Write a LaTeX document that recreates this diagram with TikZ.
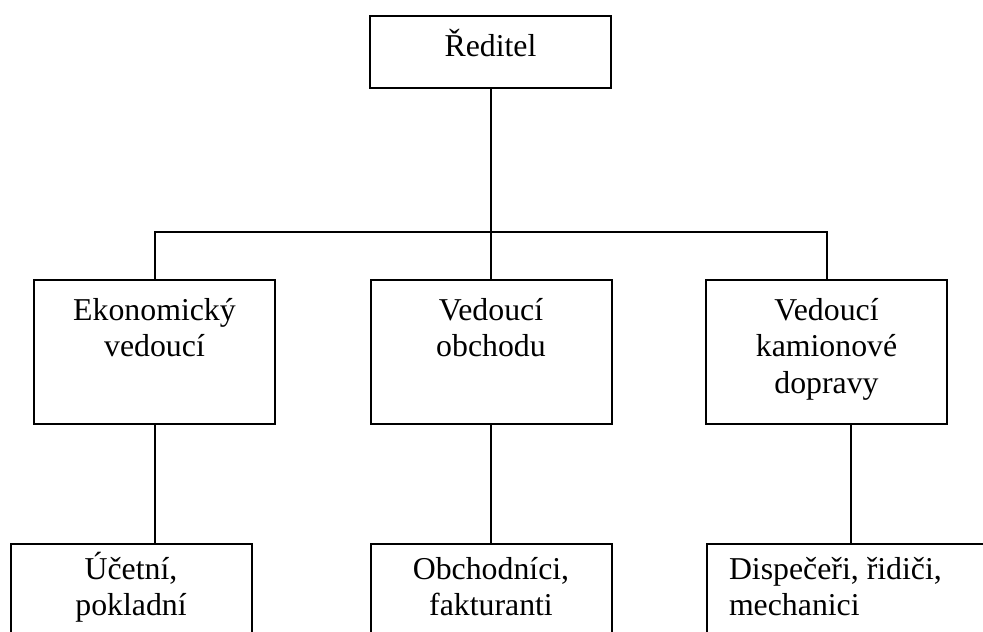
\documentclass[tikz,border=0pt]{standalone}
\usepackage{fontspec}
\setmainfont{Liberation Serif}
\usetikzlibrary{positioning}

\begin{document}
\begin{tikzpicture}[x=1pt, y=-1pt, line width=2pt,
  font=\fontsize{31.8pt}{36.5pt}\selectfont,
  box/.style={draw, line width=2pt, minimum width=241pt, minimum height=144pt, anchor=north, inner sep=0pt},
  txt/.style={align=center, inner sep=0pt}]
  \clip (0,0) rectangle (983,632);
  % Boxes
  \node[box, minimum height=72pt] (red) at (490.5,15) {};
  \node[box] (ekon) at (154.5,279) {};
  \node[box] (obch) at (491,279) {};
  \node[box] (kam) at (826.5,279) {};
  \node[box, minimum height=120pt] (uc) at (131,543) {};
  \node[box, minimum height=120pt] (obz) at (491,543) {};
  \node[box, minimum height=120pt, minimum width=300pt, anchor=north west] (disp) at (706,543) {};

  % Texts (base = last line)
  \node[txt, below=41pt of red.north, anchor=base] (redT) {Ředitel};
  \node[txt, below=77.5pt of ekon.north, anchor=base] (ekonT) {Ekonomický\\vedoucí};
  \node[txt, below=77.5pt of obch.north, anchor=base] (obchT) {Vedoucí\\obchodu};
  \node[txt, below=114pt of kam.north, anchor=base] (kamT) {Vedoucí\\kamionové\\dopravy};
  \node[txt, below=72.5pt of uc.north, anchor=base] (ucT) {Účetní,\\pokladní};
  \node[txt, below=72.5pt of obz.north, anchor=base] (obzT) {Obchodníci,\\fakturanti};
  \node[txt, align=left, anchor=base west] (dispT) at ([shift={(22pt,-72.5pt)}]disp.north west) {Dispečeři, řidiči,\\mechanici};

  % Lines
  \coordinate (bus) at (0,232);
  \draw (red.south) -- (red.south |- bus);
  \draw (ekon.north) |- (kam.north |- bus) -- (kam.north);
  \draw (obch.north) -- (obch.north |- bus);
  \draw (ekon.south) -- (ekon.south |- uc.north);
  \draw (obch.south) -- (obch.south |- obz.north);
  \draw ([xshift=24pt]kam.south) -- ([xshift=24pt]kam.south |- disp.north);
\end{tikzpicture}
\end{document}
